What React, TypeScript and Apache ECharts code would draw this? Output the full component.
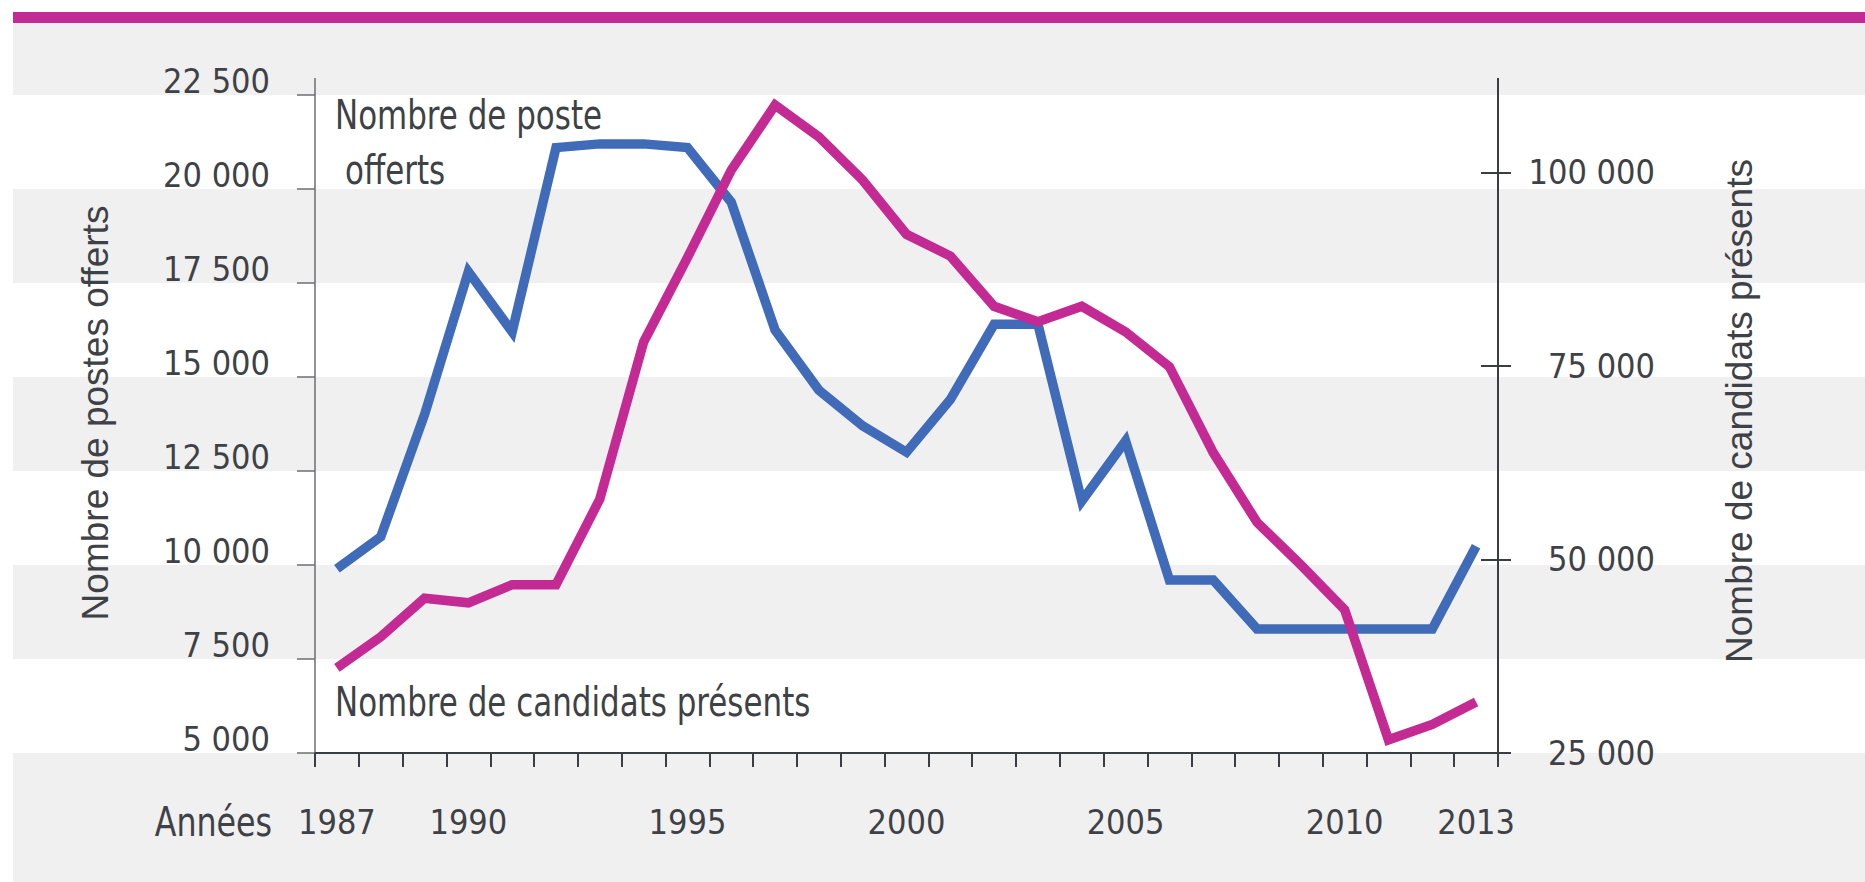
import React, { useEffect, useRef } from 'react';
import * as echarts from 'echarts';

const years = ['1987','1988','1989','1990','1991','1992','1993','1994','1995','1996','1997','1998','1999','2000','2001','2002','2003','2004','2005','2006','2007','2008','2009','2010','2011','2012','2013'];
const postesOfferts = [9900, 10750, 14000, 17800, 16200, 21100, 21200, 21200, 21100, 19650, 16250, 14650, 13700, 13000, 14400, 16400, 16400, 11700, 13300, 9600, 9600, 8300, 8300, 8300, 8300, 8300, 10500];
const candidatsPresents = [36000, 40000, 45000, 44400, 46750, 46750, 57800, 78100, 89000, 100300, 108700, 104600, 99000, 92000, 89200, 82700, 80700, 82700, 79400, 74900, 63800, 54800, 49300, 43500, 26700, 28700, 31600];
const shownYears = ['1987', '1990', '1995', '2000', '2005', '2010', '2013'];
const leftMin = 5000;
const leftMax = 22500;
const leftInterval = 2500;
const rightMin = 25000;
const rightMax = 110000;
const rightTickValues = [25000, 50000, 75000, 100000];
const whiteBands = [[22500, 20000], [17500, 15000], [12500, 10000], [7500, 5000]];

const W = 1865;
const H = 882;
const GRID_LEFT = 315;
const GRID_TOP = 95;
const GRID_W = 1183;
const GRID_H = 658;

const NARROW = "'Liberation Sans Narrow', 'DejaVu Sans Condensed', 'DejaVu Sans', sans-serif";
const SANS = "'Liberation Sans', Arial, sans-serif";
const TEXT = '#3e4146';
const AXIS = '#3a3d42';
const BLUE = '#3f6bb8';
const MAGENTA = '#c42a94';
const GREY = '#f0f0f0';
const LABEL_SIZE = 34;

const fmt = (v: number) => String(v).replace(/\B(?=(\d{3})+(?!\d))/g, ' ');

export default function App() {
  const ref = useRef<HTMLDivElement>(null);
  useEffect(() => {
    document.body.style.margin = '0';
    const chart = echarts.init(ref.current!, null, { renderer: 'svg' });
    chart.setOption({
      animation: false,
      backgroundColor: '#ffffff',
      grid: { left: GRID_LEFT, top: GRID_TOP, width: GRID_W, height: GRID_H, containLabel: false },
      xAxis: {
        type: 'category',
        data: years,
        boundaryGap: true,
        axisLine: { show: true, lineStyle: { color: AXIS, width: 2 } },
        axisTick: { show: true, interval: 0, length: 14, lineStyle: { color: AXIS, width: 2 } },
        axisLabel: {
          interval: (_i: number, v: string) => shownYears.includes(v),
          fontFamily: NARROW, fontSize: LABEL_SIZE, color: TEXT, margin: 69, verticalAlign: 'middle',
        },
        splitLine: { show: false },
      },
      yAxis: [
        {
          type: 'value', position: 'left', min: leftMin, max: leftMax, interval: leftInterval,
          axisLine: { show: true, lineStyle: { color: '#6b6e72', width: 1.5 } },
          axisTick: { show: true, length: 18, lineStyle: { color: '#6b6e72', width: 1.5 } },
          axisLabel: {
            formatter: fmt, fontFamily: NARROW, fontSize: LABEL_SIZE, color: TEXT, margin: 45,
            verticalAlign: 'bottom', lineHeight: 28,
          },
          splitLine: { show: false },
        },
        {
          type: 'value', position: 'right', min: rightMin, max: rightMax,
          axisLine: { show: true, lineStyle: { color: AXIS, width: 2 } },
          axisTick: { show: true, length: 13, customValues: rightTickValues, lineStyle: { color: AXIS, width: 2 } },
          axisLabel: {
            customValues: rightTickValues, formatter: fmt, fontFamily: NARROW, fontSize: LABEL_SIZE, color: TEXT,
            margin: 157, align: 'right', verticalAlign: 'middle',
          },
          splitLine: { show: false },
        },
        {
          type: 'value', position: 'right', min: rightMin, max: rightMax,
          axisLine: { show: false },
          axisTick: { show: true, inside: true, length: 17, customValues: rightTickValues, lineStyle: { color: AXIS, width: 2 } },
          axisLabel: { show: false },
          splitLine: { show: false },
        },
      ],
      series: [
        {
          type: 'line', name: 'Nombre de postes offerts', data: postesOfferts, yAxisIndex: 0,
          symbol: 'none', lineStyle: { color: BLUE, width: 9.5, join: 'miter' }, z: 3,
        },
        {
          type: 'line', name: 'Nombre de candidats présents', data: candidatsPresents, yAxisIndex: 1,
          symbol: 'none', lineStyle: { color: MAGENTA, width: 9.5, join: 'miter' }, z: 4,
        },
      ],
    });

    const yPix = (v: number) => chart.convertToPixel({ yAxisIndex: 0 }, v) as number;
    const bands = whiteBands.map(([a, b]) => {
      const y1 = yPix(a);
      const y2 = yPix(b);
      return { type: 'rect', shape: { x: 13, y: y1, width: W - 13, height: y2 - y1 }, style: { fill: '#ffffff' }, z: -5, silent: true };
    });
    const axisTop = 78;
    const rightX = GRID_LEFT + GRID_W;
    const note = (text: string, x: number, y: number, sx: number, align = 'left') => ({
      type: 'text', x, y, scaleX: sx, scaleY: 1,
      style: { text, font: `40px ${NARROW}`, fill: TEXT, textAlign: align, textVerticalAlign: 'middle' }, z: 10,
    });
    chart.setOption({
      graphic: [
        { type: 'rect', shape: { x: 13, y: 23, width: W - 13, height: H - 23 }, style: { fill: GREY }, z: -10, silent: true },
        { type: 'rect', shape: { x: 13, y: 12, width: W - 13, height: 11 }, style: { fill: MAGENTA }, z: -10, silent: true },
        ...bands,
        { type: 'line', shape: { x1: GRID_LEFT, y1: axisTop, x2: GRID_LEFT, y2: GRID_TOP }, style: { stroke: '#6b6e72', lineWidth: 1.5 }, z: 5 },
        { type: 'line', shape: { x1: rightX, y1: axisTop, x2: rightX, y2: GRID_TOP }, style: { stroke: AXIS, lineWidth: 2 }, z: 5 },
        { type: 'text', x: 95, y: 413, rotation: Math.PI / 2, style: { text: 'Nombre de postes offerts', font: `37px ${SANS}`, fill: TEXT, textAlign: 'center', textVerticalAlign: 'middle' }, z: 10 },
        { type: 'text', x: 1739, y: 411, rotation: Math.PI / 2, style: { text: 'Nombre de candidats présents', font: `37px ${SANS}`, fill: TEXT, textAlign: 'center', textVerticalAlign: 'middle' }, z: 10 },
        note('Nombre de poste', 335, 115, 0.86),
        note('offerts', 345, 170, 0.86),
        note('Nombre de candidats présents', 335, 702, 0.86),
        note('Années', 272, 822, 0.88, 'right'),
      ],
    });
    return () => chart.dispose();
  }, []);
  return <div ref={ref} style={{ width: W, height: H }} />;
}
